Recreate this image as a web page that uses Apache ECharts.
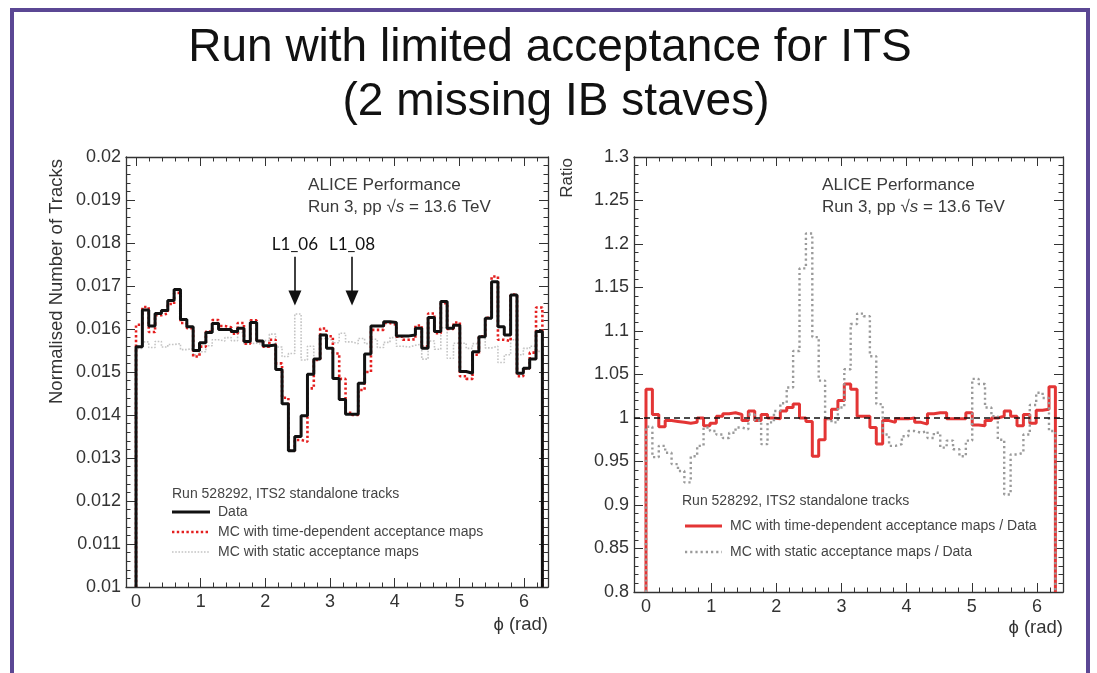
<!DOCTYPE html>
<html>
<head>
<meta charset="utf-8">
<title>ITS limited acceptance run</title>
<script src="https://cdn.jsdelivr.net/npm/echarts@6/dist/echarts.min.js"></script>
<style>
  html, body { margin: 0; padding: 0; background: #ffffff; }
  #chart { width: 1097px; height: 673px; }
</style>
</head>
<body>
<div id="chart"></div>
<script>
// Azimuthal distribution of ITS2 standalone tracks, 64 bins over [0, 2pi]
const PHI_MAX = 2 * Math.PI;

// Normalised number of tracks per bin
const dataTracks = [
  0.01559, 0.01644, 0.01607, 0.01636, 0.01643, 0.01666, 0.01692, 0.01622, 0.01605, 0.01550,
  0.01568, 0.01592, 0.01613, 0.01599, 0.01599, 0.01594, 0.01602, 0.01571, 0.01615, 0.01572,
  0.01561, 0.01563, 0.01506, 0.01426, 0.01317, 0.01350, 0.01398, 0.01495, 0.01530, 0.01586,
  0.01555, 0.01485, 0.01436, 0.01402, 0.01402, 0.01474, 0.01542, 0.01607, 0.01607, 0.01617,
  0.01615, 0.01584, 0.01584, 0.01586, 0.01602, 0.01555, 0.01627, 0.01594, 0.01664, 0.01602,
  0.01609, 0.01501, 0.01497, 0.01547, 0.01582, 0.01625, 0.01710, 0.01605, 0.01586, 0.01679,
  0.01497, 0.01509, 0.01530, 0.01594
];
const mcTimeDependent = [
  0.01610, 0.01651, 0.01593, 0.01632, 0.01636, 0.01658, 0.01684, 0.01614, 0.01602, 0.01536,
  0.01559, 0.01594, 0.01621, 0.01607, 0.01604, 0.01589, 0.01614, 0.01566, 0.01620, 0.01572,
  0.01559, 0.01575, 0.01520, 0.01440, 0.01317, 0.01342, 0.01338, 0.01462, 0.01528, 0.01601,
  0.01583, 0.01543, 0.01484, 0.01405, 0.01400, 0.01458, 0.01500, 0.01598, 0.01598, 0.01614,
  0.01610, 0.01582, 0.01575, 0.01576, 0.01608, 0.01560, 0.01636, 0.01590, 0.01660, 0.01600,
  0.01615, 0.01490, 0.01484, 0.01540, 0.01583, 0.01626, 0.01722, 0.01575, 0.01572, 0.01680,
  0.01490, 0.01508, 0.01545, 0.01650
];
const mcStatic = [
  0.01555, 0.01570, 0.01557, 0.01571, 0.01558, 0.01564, 0.01566, 0.01552, 0.01555, 0.01540,
  0.01547, 0.01561, 0.01575, 0.01572, 0.01580, 0.01573, 0.01592, 0.01566, 0.01567, 0.01564,
  0.01573, 0.01588, 0.01558, 0.01536, 0.01543, 0.01635, 0.01528, 0.01560, 0.01530, 0.01578,
  0.01574, 0.01568, 0.01590, 0.01570, 0.01566, 0.01578, 0.01566, 0.01576, 0.01557, 0.01569,
  0.01580, 0.01560, 0.01558, 0.01562, 0.01565, 0.01530, 0.01572, 0.01553, 0.01603, 0.01532,
  0.01567, 0.01567, 0.01555, 0.01566, 0.01584, 0.01556, 0.01560, 0.01522, 0.01540, 0.01575,
  0.01540, 0.01555, 0.01560, 0.01548
];

// MC / Data ratios per bin
const ratioTimeDependent = [
  1.033, 1.004, 0.990, 0.997, 0.996, 0.995, 0.994, 0.995, 1.000, 0.991,
  0.994, 1.002, 1.005, 1.006, 1.004, 0.997, 1.008, 0.997, 1.004, 1.000,
  0.999, 1.008, 1.012, 1.016, 1.000, 0.996, 0.956, 0.975, 0.999, 1.010,
  1.020, 1.039, 1.033, 1.002, 1.002, 0.989, 0.970, 0.997, 0.995, 0.999,
  0.999, 1.000, 0.995, 0.993, 1.005, 1.006, 1.006, 0.999, 0.999, 0.999,
  1.006, 0.992, 0.991, 0.997, 1.000, 1.002, 1.008, 1.002, 0.991, 1.004,
  0.994, 1.009, 1.010, 1.036
];
const ratioStatic = [
  0.990, 0.955, 0.968, 0.960, 0.947, 0.939, 0.926, 0.956, 0.968, 0.989,
  0.985, 0.981, 0.977, 0.983, 0.989, 0.987, 1.004, 0.997, 0.970, 0.995,
  1.008, 1.017, 1.035, 1.077, 1.172, 1.212, 1.093, 1.043, 0.999, 0.995,
  1.012, 1.056, 1.108, 1.120, 1.117, 1.071, 1.016, 0.981, 0.968, 0.970,
  0.979, 0.985, 0.983, 0.985, 0.977, 0.983, 0.966, 0.974, 0.964, 0.956,
  0.974, 1.045, 1.039, 1.012, 1.002, 0.975, 0.912, 0.958, 0.960, 0.981,
  1.015, 1.029, 1.023, 0.985
];

// Missing inner-barrel staves marked on the distribution
const staveLabels = ['L1_06', 'L1_08'];
const stavePhi = [2.457, 3.34];

const FONT = '"Liberation Sans", Arial, Helvetica, sans-serif';
const TXT = '#333333';

// Line styles shared by the histograms and their legend samples
const STYLE = {
  data:      { color: '#111111', width: 3,   dash: null },
  mcTime:    { color: '#e41e1e', width: 2.6, dash: [2.4, 2.4] },
  mcStatic:  { color: '#c4c4c4', width: 1.6, dash: [1.6, 1.6] },
  rTime:     { color: '#e33535', width: 3,   dash: null },
  rStatic:   { color: '#9a9a9a', width: 2.4, dash: [2.2, 3] }
};

// Histogram outline: closed to the axis floor at both ends, one step per bin
function histPoints(values, floor) {
  const w = PHI_MAX / values.length;
  const pts = [[0, floor]];
  values.forEach((v, i) => pts.push([i * w, v]));
  pts.push([PHI_MAX, values[values.length - 1]]);
  pts.push([PHI_MAX, floor]);
  return pts;
}

function frameX(gridIndex, min, max, top) {
  return {
    type: 'value', gridIndex: gridIndex, min: min, max: max,
    position: top ? 'top' : 'bottom',
    axisLine: { show: true, onZero: false, lineStyle: { color: '#333', width: 1.3 } },
    axisTick: { show: true, inside: true, length: 9, lineStyle: { color: '#333', width: 1 } },
    minorTick: { show: true, splitNumber: 5, length: 4.5, lineStyle: { color: '#333', width: 1 } },
    splitLine: { show: false },
    axisLabel: {
      show: !top, margin: 6, fontFamily: FONT, fontSize: 18, color: TXT,
      showMinLabel: false, showMaxLabel: false
    }
  };
}
function frameY(gridIndex, min, max, interval, right) {
  return {
    type: 'value', gridIndex: gridIndex, min: min, max: max, interval: interval,
    position: right ? 'right' : 'left',
    axisLine: { show: true, onZero: false, lineStyle: { color: '#333', width: 1.3 } },
    axisTick: { show: true, inside: true, length: 9, lineStyle: { color: '#333', width: 1 } },
    minorTick: { show: true, splitNumber: 5, length: 4.5, lineStyle: { color: '#333', width: 1 } },
    splitLine: { show: false },
    axisLabel: { show: !right, margin: 5, fontFamily: FONT, fontSize: 18, color: TXT }
  };
}

function histSeries(name, values, floor, xi, yi, st, z) {
  return {
    name: name, type: 'line', xAxisIndex: xi, yAxisIndex: yi,
    data: histPoints(values, floor), step: 'end',
    symbol: 'none', showSymbol: false, silent: true, animation: false, z: z,
    lineStyle: { color: st.color, width: st.width, type: st.dash || 'solid', cap: 'butt' },
    itemStyle: { color: st.color }
  };
}

const chart = echarts.init(document.getElementById('chart'), null, { renderer: 'canvas' });

const arrowMarks = staveLabels.map((lab, k) => [
  { coord: [stavePhi[k], 0.01768], symbol: 'none',
    label: { show: true, position: 'start', formatter: lab, distance: 4,
             fontFamily: 'Lato, "Open Sans", sans-serif', fontSize: 17, color: '#111' } },
  { coord: [stavePhi[k], 0.01672], symbol: 'triangle', symbolSize: [13, 15] }
]);

const leftSeries = [
  histSeries('MC with static acceptance maps', mcStatic, 0.01, 0, 0, STYLE.mcStatic, 2),
  histSeries('MC with time-dependent acceptance maps', mcTimeDependent, 0.01, 0, 0, STYLE.mcTime, 3),
  Object.assign(histSeries('Data', dataTracks, 0.01, 0, 0, STYLE.data, 4), {
    markLine: {
      silent: true, animation: false, symbol: ['none', 'triangle'],
      lineStyle: { color: '#111', width: 1.6, type: 'solid' },
      itemStyle: { color: '#111' },
      data: arrowMarks
    }
  })
];

const rightSeries = [
  histSeries('MC with time-dependent acceptance maps / Data', ratioTimeDependent, 0.8, 2, 2, STYLE.rTime, 3),
  Object.assign(histSeries('MC with static acceptance maps / Data', ratioStatic, 0.8, 2, 2, STYLE.rStatic, 4), {
    markLine: {
      silent: true, animation: false, symbol: ['none', 'none'],
      label: { show: false },
      lineStyle: { color: '#111', width: 1.6, type: [6, 4] },
      data: [{ yAxis: 1 }]
    }
  })
];

const text = (x, y, txt, size, opts) => ({
  type: 'text', x: x, y: y, silent: true,
  style: Object.assign({ text: txt, fontFamily: FONT, fontSize: size, fill: TXT,
    textVerticalAlign: 'middle', textAlign: 'left' }, opts || {})
});

// Legend: header line, then one sample line + caption per entry
function legendBlock(x, yHeader, entries, sampleLen, textX) {
  const out = [text(x, yHeader, 'Run 528292, ITS2 standalone tracks', 14, { fill: '#444' })];
  entries.forEach(e => {
    out.push({
      type: 'line', silent: true,
      shape: { x1: e.x0, y1: e.y, x2: e.x0 + sampleLen, y2: e.y },
      style: { stroke: e.st.color, lineWidth: e.st.width, lineDash: e.st.dash, lineCap: 'butt' }
    });
    out.push(text(textX, e.y, e.label, 14, { fill: '#444' }));
  });
  return out;
}

const richEnergy = {
  rich: {
    n: { fontFamily: FONT, fontSize: 17, fill: '#3a3a3a' },
    s: { fontFamily: FONT, fontSize: 17, fill: '#3a3a3a', fontStyle: 'italic' }
  }
};

function aliceLabel(x) {
  return [
    text(x, 185, 'ALICE Performance', 17.2, { fill: '#3a3a3a' }),
    {
      type: 'text', x: x, y: 207, silent: true,
      style: Object.assign({ text: '{n|Run 3, pp √}{s|s}{n| = 13.6 TeV}',
        textVerticalAlign: 'middle', textAlign: 'left' }, richEnergy)
    }
  ];
}

const TITLE_FONT = '"Liberation Sans", Arial, sans-serif';

const option = {
  backgroundColor: '#ffffff',
  animation: false,
  grid: [
    { left: 126, top: 157, width: 422, height: 430 },
    { left: 634, top: 157, width: 429, height: 435 }
  ],
  xAxis: [
    frameX(0, -0.155, 6.37, false),
    frameX(0, -0.155, 6.37, true),
    frameX(1, -0.184, 6.40, false),
    frameX(1, -0.184, 6.40, true)
  ],
  yAxis: [
    frameY(0, 0.01, 0.02, 0.001, false),
    frameY(0, 0.01, 0.02, 0.001, true),
    frameY(1, 0.8, 1.3, 0.05, false),
    frameY(1, 0.8, 1.3, 0.05, true)
  ],
  series: leftSeries.concat(rightSeries),
  graphic: [
    // slide frame
    { type: 'rect', silent: true, z: -1,
      shape: { x: 12, y: 10, width: 1076, height: 720 },
      style: { fill: 'none', stroke: '#5b4794', lineWidth: 4 } },
    text(550, 48, 'Run with limited acceptance for ITS', 46,
      { fontFamily: TITLE_FONT, fill: '#111', textAlign: 'center' }),
    text(556, 102, '(2 missing IB staves)', 46,
      { fontFamily: TITLE_FONT, fill: '#111', textAlign: 'center' }),
    // axis titles
    { type: 'text', x: 57, y: 159, rotation: Math.PI / 2, silent: true,
      style: { text: 'Normalised Number of Tracks', fontFamily: FONT, fontSize: 18.5, fill: TXT,
        textAlign: 'right', textVerticalAlign: 'middle' } },
    { type: 'text', x: 567, y: 158, rotation: Math.PI / 2, silent: true,
      style: { text: 'Ratio', fontFamily: FONT, fontSize: 17, fill: TXT,
        textAlign: 'right', textVerticalAlign: 'middle' } },
    text(548, 625, 'ϕ (rad)', 18.5, { textAlign: 'right' }),
    text(1063, 628, 'ϕ (rad)', 18.5, { textAlign: 'right' })
  ].concat(
    aliceLabel(308), aliceLabel(822),
    legendBlock(172, 494, [
      { x0: 172, y: 512, st: STYLE.data, label: 'Data' },
      { x0: 172, y: 532, st: STYLE.mcTime, label: 'MC with time-dependent acceptance maps' },
      { x0: 172, y: 552, st: STYLE.mcStatic, label: 'MC with static acceptance maps' }
    ], 38, 218),
    legendBlock(682, 501, [
      { x0: 685, y: 526, st: STYLE.rTime, label: 'MC with time-dependent acceptance maps / Data' },
      { x0: 685, y: 552, st: STYLE.rStatic, label: 'MC with static acceptance maps / Data' }
    ], 37, 730)
  )
};

chart.setOption(option);
</script>
</body>
</html>
